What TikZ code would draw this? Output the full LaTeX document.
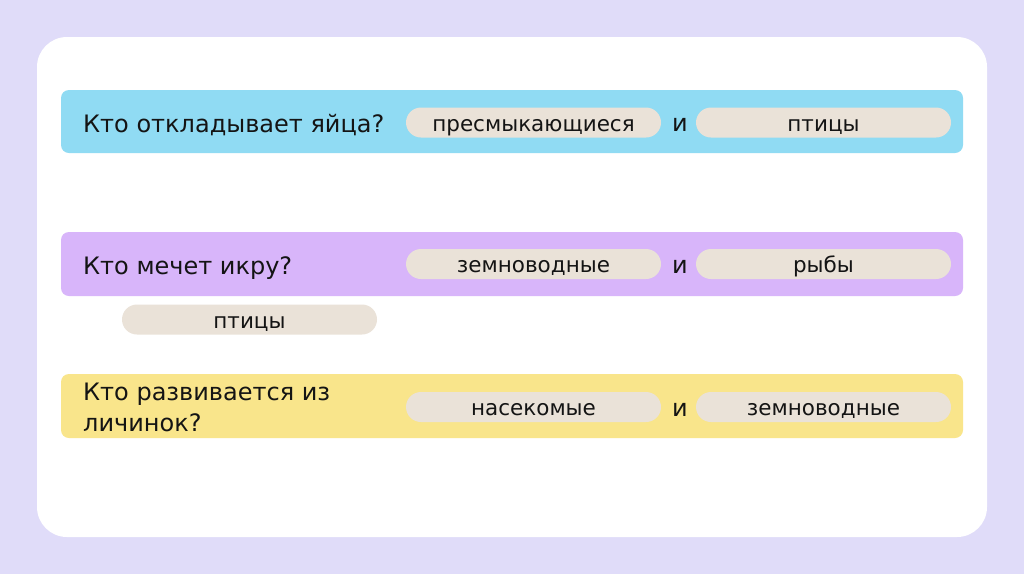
\documentclass[tikz,border=0pt]{standalone}
\usepackage{fontspec}
\setmainfont{DejaVu Sans}
\definecolor{bgl}{RGB}{224,220,249}
\definecolor{rowblue}{RGB}{144,219,243}
\definecolor{rowpurple}{RGB}{216,181,250}
\definecolor{rowyellow}{RGB}{249,229,139}
\definecolor{pillc}{RGB}{234,226,216}
\definecolor{txt}{RGB}{20,20,20}
\begin{document}
\begin{tikzpicture}[x=1pt,y=-1pt,
  rowbar/.style={rounded corners=8pt},
  pill/.style={fill=pillc, rounded corners=15pt, minimum width=255pt, minimum height=30pt, inner sep=0pt, text height=17.5pt, text depth=0pt, font=\fontsize{21.5}{24}\selectfont, text=txt},
  question/.style={anchor=base west, inner sep=0pt, font=\fontsize{24}{31}\selectfont, text=txt, align=left},
  andtxt/.style={anchor=base, inner sep=0pt, font=\fontsize{24}{26}\selectfont, text=txt}]
\fill[bgl] (0,0) rectangle (1024,574);
\useasboundingbox (0,0) rectangle (1024,574);
\fill[white, rounded corners=30pt] (37,37) rectangle (987,537);
% rows
\fill[rowblue, rowbar] (61,90) rectangle (963,153);
\fill[rowpurple, rowbar] (61,232) rectangle (963,296);
\fill[rowyellow, rowbar] (61,374) rectangle (963,438);
% row 1
\node[question] (q1) at (83,132.5) {Кто откладывает яйца?};
\node[pill] (p1a) at (533.5,122.5) {пресмыкающиеся};
\node[andtxt] (a1) at (680,131) {и};
\node[pill] (p1b) at (823.5,122.5) {птицы};
% row 2
\node[question] (q2) at (83,274.5) {Кто мечет икру?};
\node[pill] (p2a) at (533.5,264) {земноводные};
\node[andtxt] (a2) at (680,273) {и};
\node[pill] (p2b) at (823.5,264) {рыбы};
% loose pill
\node[pill] (p0) at (249.5,319.5) {птицы};
% row 3
\node[question] (q3) at (83,431.5) {Кто развивается из\\личинок?};
\node[pill] (p3a) at (533.5,407) {насекомые};
\node[andtxt] (a3) at (680,416) {и};
\node[pill] (p3b) at (823.5,407) {земноводные};
\end{tikzpicture}
\end{document}
